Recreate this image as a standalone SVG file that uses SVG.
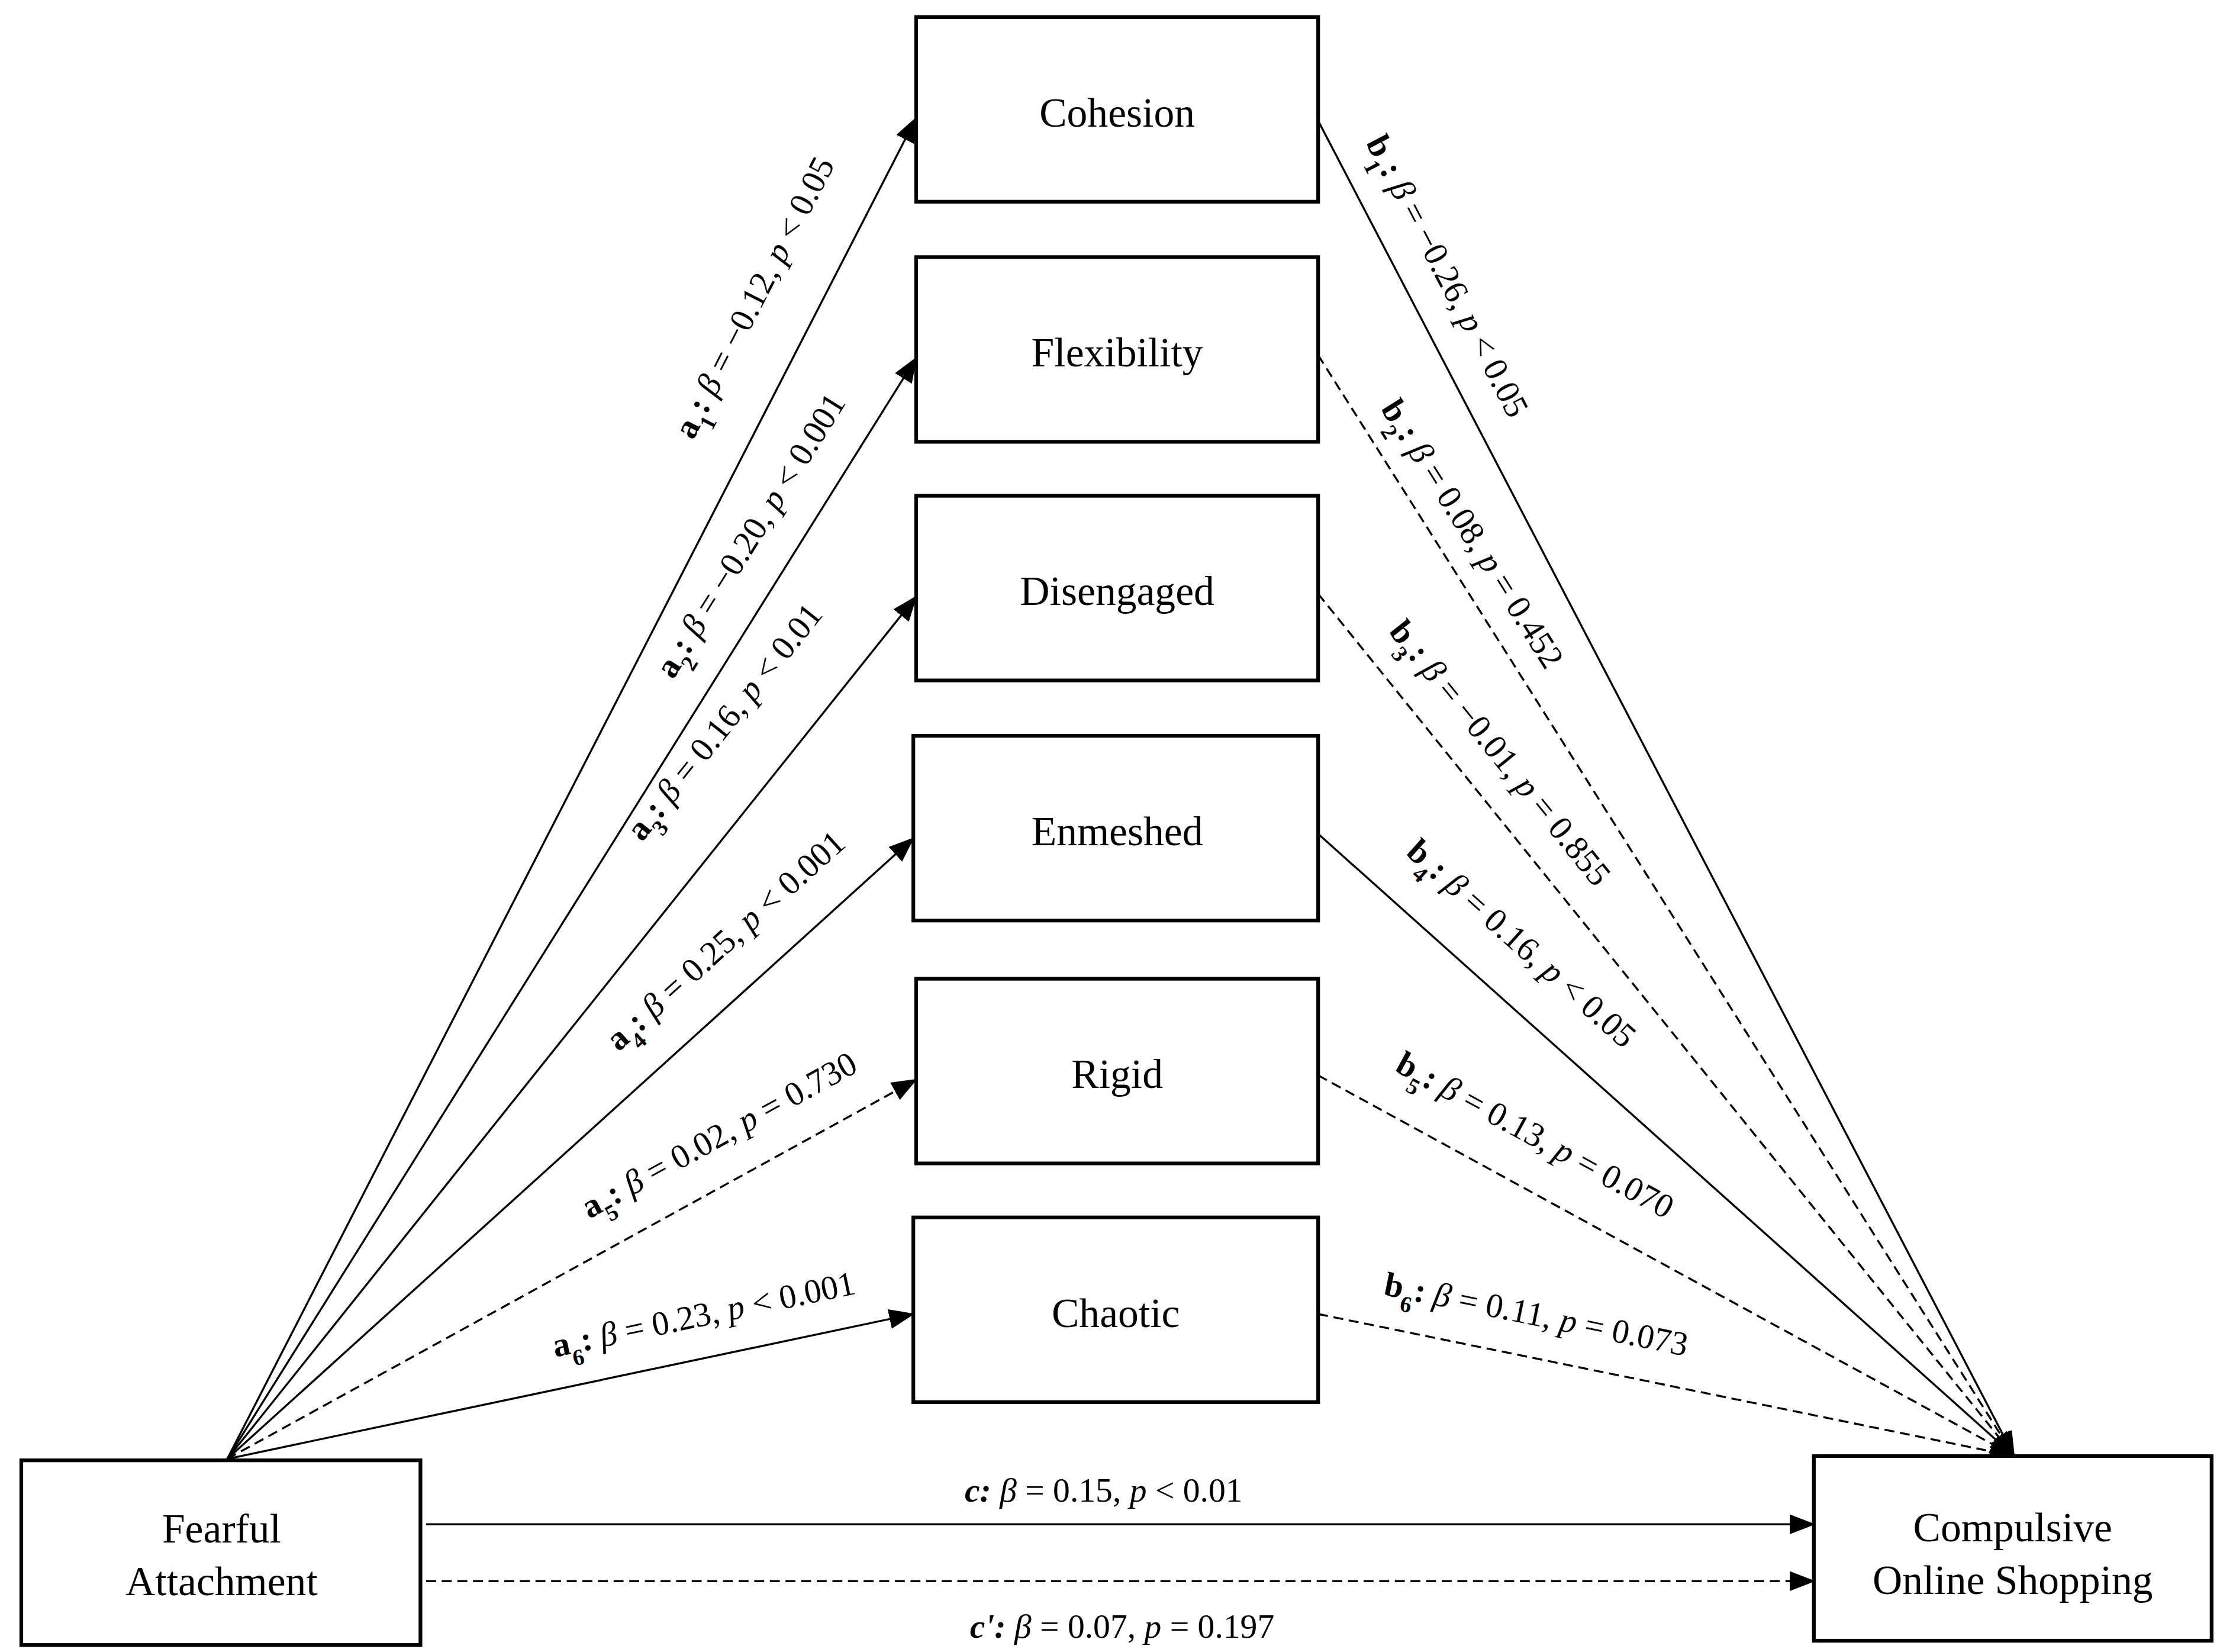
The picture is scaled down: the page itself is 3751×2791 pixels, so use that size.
<svg xmlns="http://www.w3.org/2000/svg" width="3751" height="2791" viewBox="0 0 3751 2791">
<defs>
<marker id="ah" markerUnits="userSpaceOnUse" markerWidth="18" markerHeight="14" refX="17" refY="7" orient="auto"><path d="M0,0 L18,7 L0,14 Z" fill="#000"/></marker>
<style>
.box{fill:#fff;stroke:#000;stroke-width:2.6}
.nt{font-family:"Liberation Serif",serif;font-size:29px;text-anchor:middle;fill:#000}
.ln{stroke:#000;stroke-width:1.4;fill:none;marker-end:url(#ah)}
.d{stroke-dasharray:7,4}
.lb{font-family:"Liberation Serif",serif;font-size:24px;text-anchor:middle;fill:#000}
.b{font-weight:bold}
.i{font-style:italic}
.s{font-size:16px}
</style>
</defs>
<rect width="3751" height="2791" fill="#fff"/>
<g transform="scale(2.4)">
<g id="connectors">
<line class="ln" x1="160" y1="1027" x2="645" y2="83"/>
<line class="ln" x1="160" y1="1027" x2="645" y2="252"/>
<line class="ln" x1="160" y1="1027" x2="645" y2="420"/>
<line class="ln" x1="160" y1="1027" x2="643" y2="590"/>
<line class="ln d" x1="160" y1="1027" x2="645" y2="760"/>
<line class="ln" x1="160" y1="1027" x2="643" y2="925"/>
<line class="ln" x1="928" y1="85" x2="1418" y2="1025"/>
<line class="ln d" x1="928" y1="250" x2="1418" y2="1025"/>
<line class="ln d" x1="928" y1="418" x2="1418" y2="1025"/>
<line class="ln" x1="928" y1="587" x2="1418" y2="1025"/>
<line class="ln d" x1="928" y1="757" x2="1418" y2="1025"/>
<line class="ln d" x1="928" y1="925" x2="1418" y2="1025"/>
<line class="ln" x1="300" y1="1073" x2="1277" y2="1073"/>
<line class="ln d" x1="300" y1="1113" x2="1277" y2="1113"/>
<g id="labels">
<text class="lb" transform="translate(538,213) rotate(-62.8)"><tspan class="b">a</tspan><tspan class="b s" baseline-shift="sub">1</tspan><tspan class="b">:</tspan> <tspan class="i">β</tspan> = −0.12, <tspan class="i">p</tspan> &lt; 0.05</text>
<text class="lb" transform="translate(535,381) rotate(-58)"><tspan class="b">a</tspan><tspan class="b s" baseline-shift="sub">2</tspan><tspan class="b">:</tspan> <tspan class="i">β</tspan> = −0.20, <tspan class="i">p</tspan> &lt; 0.001</text>
<text class="lb" transform="translate(516,513) rotate(-51.4)"><tspan class="b">a</tspan><tspan class="b s" baseline-shift="sub">3</tspan><tspan class="b">:</tspan> <tspan class="i">β</tspan> = 0.16, <tspan class="i">p</tspan> &lt; 0.01</text>
<text class="lb" transform="translate(516,668) rotate(-42.1)"><tspan class="b">a</tspan><tspan class="b s" baseline-shift="sub">4</tspan><tspan class="b">:</tspan> <tspan class="i">β</tspan> = 0.25, <tspan class="i">p</tspan> &lt; 0.001</text>
<text class="lb" transform="translate(510,806) rotate(-28.8)"><tspan class="b">a</tspan><tspan class="b s" baseline-shift="sub">5</tspan><tspan class="b">:</tspan> <tspan class="i">β</tspan> = 0.02, <tspan class="i">p</tspan> = 0.730</text>
<text class="lb" transform="translate(497,933) rotate(-11.9)"><tspan class="b">a</tspan><tspan class="b s" baseline-shift="sub">6</tspan><tspan class="b">:</tspan> <tspan class="i">β</tspan> = 0.23, <tspan class="i">p</tspan> &lt; 0.001</text>
<text class="lb" transform="translate(1012,198) rotate(62.5)"><tspan class="b">b</tspan><tspan class="b s" baseline-shift="sub">1</tspan><tspan class="b">:</tspan> <tspan class="i">β</tspan> = −0.26, <tspan class="i">p</tspan> &lt; 0.05</text>
<text class="lb" transform="translate(1030,380) rotate(57.7)"><tspan class="b">b</tspan><tspan class="b s" baseline-shift="sub">2</tspan><tspan class="b">:</tspan> <tspan class="i">β</tspan> = 0.08, <tspan class="i">p</tspan> = 0.452</text>
<text class="lb" transform="translate(1050,535) rotate(51.1)"><tspan class="b">b</tspan><tspan class="b s" baseline-shift="sub">3</tspan><tspan class="b">:</tspan> <tspan class="i">β</tspan> = −0.01, <tspan class="i">p</tspan> = 0.855</text>
<text class="lb" transform="translate(1066,670) rotate(41.8)"><tspan class="b">b</tspan><tspan class="b s" baseline-shift="sub">4</tspan><tspan class="b">:</tspan> <tspan class="i">β</tspan> = 0.16, <tspan class="i">p</tspan> &lt; 0.05</text>
<text class="lb" transform="translate(1077,806) rotate(28.7)"><tspan class="b">b</tspan><tspan class="b s" baseline-shift="sub">5</tspan><tspan class="b">:</tspan> <tspan class="i">β</tspan> = 0.13, <tspan class="i">p</tspan> = 0.070</text>
<text class="lb" transform="translate(1080,933) rotate(11.5)"><tspan class="b">b</tspan><tspan class="b s" baseline-shift="sub">6</tspan><tspan class="b">:</tspan> <tspan class="i">β</tspan> = 0.11, <tspan class="i">p</tspan> = 0.073</text>
<text class="lb" x="777" y="1057"><tspan class="b i">c:</tspan> <tspan class="i">β</tspan> = 0.15, <tspan class="i">p</tspan> &lt; 0.01</text>
<text class="lb" x="790" y="1153"><tspan class="b i">c':</tspan> <tspan class="i">β</tspan> = 0.07, <tspan class="i">p</tspan> = 0.197</text>
</g>
</g>
<g id="cohesion"><rect class="box" x="645" y="12" width="283" height="130"/><text class="nt" x="786.5" y="89">Cohesion</text></g>
<g id="flexibility"><rect class="box" x="645" y="181" width="283" height="130"/><text class="nt" x="786.5" y="258">Flexibility</text></g>
<g id="disengaged"><rect class="box" x="645" y="349" width="283" height="130"/><text class="nt" x="786.5" y="426">Disengaged</text></g>
<g id="enmeshed"><rect class="box" x="643" y="518" width="285" height="130"/><text class="nt" x="786.5" y="595">Enmeshed</text></g>
<g id="rigid"><rect class="box" x="645" y="689" width="283" height="130"/><text class="nt" x="786.5" y="766">Rigid</text></g>
<g id="chaotic"><rect class="box" x="643" y="857" width="285" height="130"/><text class="nt" x="785.5" y="934">Chaotic</text></g>
<g id="fearful"><rect class="box" x="15" y="1028" width="281" height="130"/><text class="nt" x="156" y="1086">Fearful</text><text class="nt" x="156" y="1123">Attachment</text></g>
<g id="compulsive"><rect class="box" x="1277" y="1025" width="280" height="130"/><text class="nt" x="1417" y="1085">Compulsive</text><text class="nt" x="1417" y="1122">Online Shopping</text></g>
</g>
</svg>
